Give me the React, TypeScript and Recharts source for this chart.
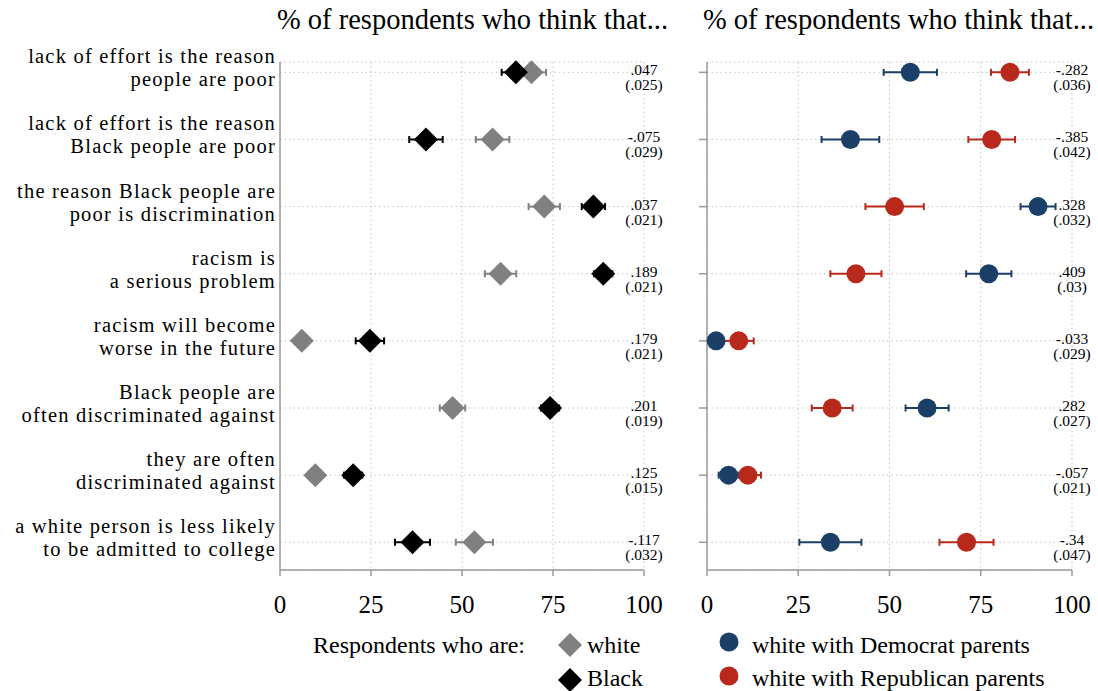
import React from "react";
import { ScatterChart, Scatter, XAxis, YAxis, CartesianGrid, ErrorBar } from "recharts";

const FONT = "'Liberation Serif', 'Times New Roman', serif";
const GRAY = "#808080";
const NAVY = "#1b3f66";
const RED = "#b8291b";
const AXIS = "#9a9a9a";

// statements, one per row (two text lines each)
const statements = [
  ["lack of effort is the reason", "people are poor"],
  ["lack of effort is the reason", "Black people are poor"],
  ["the reason Black people are", "poor is discrimination"],
  ["racism is", "a serious problem"],
  ["racism will become", "worse in the future"],
  ["Black people are", "often discriminated against"],
  ["they are often", "discriminated against"],
  ["a white person is less likely", "to be admitted to college"],
];

const xTicks = [0, 25, 50, 75, 100];
const rowTicks = [1, 2, 3, 4, 5, 6, 7, 8];

// left panel: white vs Black respondents
const whiteShare = [69.1, 58.4, 72.6, 60.6, 6.0, 47.4, 9.7, 53.4];
const whiteCi = [4.0, 4.6, 4.3, 4.3, 2.0, 3.5, 2.0, 5.1];
const blackShare = [64.8, 40.1, 86.1, 88.8, 24.7, 74.2, 20.1, 36.4];
const blackCi = [3.9, 4.6, 3.2, 2.5, 3.9, 2.5, 2.5, 4.8];
const raceCoef = [".047", "-.075", ".037", ".189", ".179", ".201", ".125", "-.117"];
const raceSe = ["(.025)", "(.029)", "(.021)", "(.021)", "(.021)", "(.019)", "(.015)", "(.032)"];

// right panel: white respondents by parents' party
const demShare = [55.7, 39.3, 90.7, 77.2, 2.5, 60.3, 5.9, 33.8];
const demCi = [7.3, 7.9, 4.8, 6.2, 2.0, 5.9, 2.7, 8.5];
const repShare = [83.0, 78.0, 51.4, 40.8, 8.7, 34.3, 11.2, 71.1];
const repCi = [5.2, 6.4, 8.0, 7.0, 4.1, 5.6, 3.6, 7.4];
const partyCoef = ["-.282", "-.385", ".328", ".409", "-.033", ".282", "-.057", "-.34"];
const partySe = ["(.036)", "(.042)", "(.032)", "(.03)", "(.029)", "(.027)", "(.021)", "(.047)"];

const toPoints = (vals: number[], errs: number[]) =>
  vals.map((v, i) => ({ x: v, y: i + 1, err: errs[i] }));

const toNotes = (coef: string[], se: string[]) =>
  coef.map((c, i) => ({ x: 100, y: i + 1, coef: c, se: se[i] }));

const Diamond = (fill: string) => (props: any) => {
  const { cx, cy } = props;
  const s = 12;
  return (
    <polygon
      points={`${cx},${cy - s} ${cx + s},${cy} ${cx},${cy + s} ${cx - s},${cy}`}
      fill={fill}
    />
  );
};

const Dot = (fill: string) => (props: any) => (
  <circle cx={props.cx} cy={props.cy} r={9.5} fill={fill} />
);

// coefficient and standard error printed at the right end of each row
const Note = (props: any) => {
  const { cx, cy, payload } = props;
  return (
    <text x={cx} y={cy + 3} textAnchor="middle" fontFamily={FONT} fontSize={15.5} fill="#000">
      <tspan x={cx}>{payload.coef}</tspan>
      <tspan x={cx} dy={15}>{payload.se}</tspan>
    </text>
  );
};

const RowLabel = (props: any) => {
  const { x, y, payload } = props;
  const lines = statements[payload.value - 1] || ["", ""];
  return (
    <text
      x={x}
      y={y - 9}
      textAnchor="end"
      fontFamily={FONT}
      fontSize={20.5}
      letterSpacing={1.2}
      fill="#000"
    >
      <tspan x={x}>{lines[0]}</tspan>
      <tspan x={x} dy={23}>{lines[1]}</tspan>
    </text>
  );
};

const rowDomain = [0.846, 8.413];

const Panel = ({
  width,
  yWidth,
  right,
  left,
  children,
}: {
  width: number;
  yWidth: number;
  right: number;
  left: boolean;
  children: React.ReactNode;
}) => (
  <ScatterChart width={width} height={691} margin={{ top: 62, right, bottom: 81, left: 0 }}>
    <CartesianGrid stroke="#c4c4c4" strokeDasharray="1.5 3" />
    <XAxis
      type="number"
      dataKey="x"
      domain={[0, 100]}
      ticks={xTicks}
      height={40}
      stroke={AXIS}
      strokeWidth={1.5}
      tickSize={6}
      tickMargin={19}
      tick={{ fontSize: 25, fill: "#000", fontFamily: FONT }}
    />
    <YAxis
      type="number"
      dataKey="y"
      domain={rowDomain}
      ticks={rowTicks}
      reversed
      width={yWidth}
      stroke={AXIS}
      strokeWidth={1.5}
      tickLine={!left}
      tickSize={left ? 0 : 8}
      tickMargin={left ? 4 : 0}
      tick={left ? <RowLabel /> : () => <g />}
    />
    {children}
  </ScatterChart>
);

export default function App() {
  return (
    <div
      style={{
        position: "absolute",
        left: 0,
        top: 0,
        width: 1098,
        height: 691,
        background: "#fff",
        fontFamily: FONT,
      }}
    >
      <div style={{ position: "absolute", left: 0, top: 0 }}>
        <Panel width={700} yWidth={280} right={56} left>
          <Scatter data={toPoints(whiteShare, whiteCi)} shape={Diamond(GRAY)} isAnimationActive={false}>
            <ErrorBar dataKey="err" direction="x" width={3.5} stroke={GRAY} strokeWidth={2} />
          </Scatter>
          <Scatter data={toPoints(blackShare, blackCi)} shape={Diamond("#000")} isAnimationActive={false}>
            <ErrorBar dataKey="err" direction="x" width={3.5} stroke="#000" strokeWidth={2} />
          </Scatter>
          <Scatter data={toNotes(raceCoef, raceSe)} shape={Note} isAnimationActive={false} />
        </Panel>
      </div>
      <div style={{ position: "absolute", left: 650, top: 0 }}>
        <Panel width={448} yWidth={57} right={26} left={false}>
          <Scatter data={toPoints(demShare, demCi)} shape={Dot(NAVY)} isAnimationActive={false}>
            <ErrorBar dataKey="err" direction="x" width={3.5} stroke={NAVY} strokeWidth={2} />
          </Scatter>
          <Scatter data={toPoints(repShare, repCi)} shape={Dot(RED)} isAnimationActive={false}>
            <ErrorBar dataKey="err" direction="x" width={3.5} stroke={RED} strokeWidth={2} />
          </Scatter>
          <Scatter data={toNotes(partyCoef, partySe)} shape={Note} isAnimationActive={false} />
        </Panel>
      </div>
      <svg
        width={1098}
        height={691}
        style={{ position: "absolute", left: 0, top: 0, pointerEvents: "none" }}
        fontFamily={FONT}
      >
        <text x={277} y={29} fontSize={28.5}>% of respondents who think that...</text>
        <text x={703} y={29} fontSize={28.5}>% of respondents who think that...</text>

        <text x={313} y={653} fontSize={24}>Respondents who are:</text>
        <polygon points="570,633 582,645 570,657 558,645" fill={GRAY} />
        <text x={587} y={653} fontSize={24}>white</text>
        <polygon points="570,668 582,680 570,692 558,680" fill="#000" />
        <text x={587} y={686} fontSize={24}>Black</text>

        <circle cx={729} cy={642} r={9.5} fill={NAVY} />
        <text x={752} y={653} fontSize={24}>white with Democrat parents</text>
        <circle cx={729} cy={676} r={9.5} fill={RED} />
        <text x={752} y={686} fontSize={24}>white with Republican parents</text>
      </svg>
    </div>
  );
}
